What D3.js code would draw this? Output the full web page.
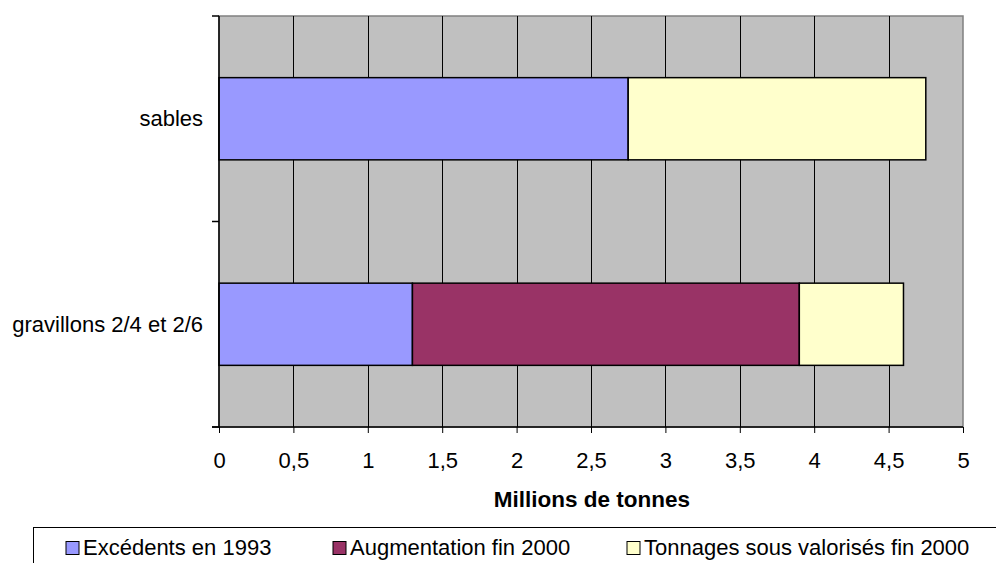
<!DOCTYPE html>
<html>
<head>
<meta charset="utf-8">
<script src="https://cdn.jsdelivr.net/npm/d3@7"></script>
<style>
  body { margin: 0; background: #fff; }
  svg { display: block; font-family: Arial, "Liberation Sans", sans-serif; }
</style>
</head>
<body>
<div id="chart"></div>
<script>
const categories = ["sables", "gravillons 2/4 et 2/6"];
const seriesNames = ["Excédents en 1993", "Augmentation fin 2000", "Tonnages sous valorisés fin 2000"];
const excedents = [2.75, 1.3];
const augmentation = [0, 2.6];
const sousValorises = [2.0, 0.7];
const xTicks = [0, 0.5, 1, 1.5, 2, 2.5, 3, 3.5, 4, 4.5, 5];
const colors = ["#9999ff", "#993366", "#ffffcc"];

const width = 996, height = 563;
const plot = { left: 219, right: 963, top: 16, bottom: 427 };
const fontSize = 22;

const svg = d3.select("#chart").append("svg")
  .attr("width", width)
  .attr("height", height);

const x = d3.scaleLinear().domain([0, 5]).range([plot.left, plot.right]);
const y = d3.scaleBand().domain(categories).range([plot.top, plot.bottom]).paddingInner(0.6).paddingOuter(0.3);

// plot background
svg.append("rect")
  .attr("x", plot.left).attr("y", plot.top)
  .attr("width", plot.right - plot.left).attr("height", plot.bottom - plot.top)
  .attr("fill", "#c0c0c0")
  .attr("stroke", "#808080")
  .attr("stroke-width", 1.5);

// vertical gridlines
svg.append("g")
  .selectAll("line")
  .data(xTicks.slice(1, -1))
  .join("line")
  .attr("x1", d => Math.round(x(d)) + 0.5).attr("x2", d => Math.round(x(d)) + 0.5)
  .attr("y1", plot.top).attr("y2", plot.bottom)
  .attr("stroke", "#000")
  .attr("stroke-width", 1);

// stacked bars
const table = categories.map((c, i) => ({
  cat: c,
  s0: excedents[i],
  s1: augmentation[i],
  s2: sousValorises[i]
}));
const stacked = d3.stack().keys(["s0", "s1", "s2"])(table);

svg.append("g")
  .selectAll("g")
  .data(stacked)
  .join("g")
  .attr("fill", (d, i) => colors[i])
  .selectAll("rect")
  .data(d => d.filter(v => v[1] > v[0]))
  .join("rect")
  .attr("x", d => x(d[0]))
  .attr("y", d => y(d.data.cat))
  .attr("width", d => x(d[1]) - x(d[0]))
  .attr("height", y.bandwidth())
  .attr("stroke", "#000")
  .attr("stroke-width", 1.5);

// x axis
const xAxis = svg.append("g")
  .attr("transform", `translate(0,${plot.bottom})`)
  .call(d3.axisBottom(x).tickValues(xTicks).tickSize(6).tickPadding(19)
    .tickFormat(d => String(d).replace(".", ",")));
xAxis.select(".domain").attr("stroke", "#000").attr("stroke-width", 1.5)
  .attr("d", `M${plot.left - 7},0H${plot.right}`);
xAxis.selectAll("text").attr("font-size", fontSize).attr("fill", "#000")
  .attr("font-family", "Arial, 'Liberation Sans', sans-serif");

// y axis (tick marks at category boundaries)
const yEdges = [plot.top, (plot.top + plot.bottom) / 2, plot.bottom];
svg.append("line")
  .attr("x1", plot.left).attr("x2", plot.left)
  .attr("y1", plot.top).attr("y2", plot.bottom)
  .attr("stroke", "#000").attr("stroke-width", 1.5);
svg.append("g")
  .selectAll("line")
  .data(yEdges)
  .join("line")
  .attr("x1", plot.left - 7).attr("x2", plot.left)
  .attr("y1", d => d).attr("y2", d => d)
  .attr("stroke", "#000").attr("stroke-width", 1.5);

svg.append("g")
  .selectAll("text")
  .data(categories)
  .join("text")
  .attr("x", 203)
  .attr("y", d => y(d) + y.bandwidth() / 2)
  .attr("dy", "0.35em")
  .attr("text-anchor", "end")
  .attr("font-size", fontSize)
  .text(d => d);

// axis title
svg.append("text")
  .attr("x", 592)
  .attr("y", 507)
  .attr("text-anchor", "middle")
  .attr("font-size", 22.5)
  .attr("font-weight", "bold")
  .text("Millions de tonnes");

// legend
svg.append("rect")
  .attr("x", 33.5).attr("y", 527.5)
  .attr("width", 1000).attr("height", 60)
  .attr("fill", "#fff").attr("stroke", "#000").attr("stroke-width", 1);

const legendX = [66, 333, 627];
const legend = svg.append("g")
  .selectAll("g")
  .data(seriesNames)
  .join("g")
  .attr("transform", (d, i) => `translate(${legendX[i]},541.5)`);
legend.append("rect")
  .attr("width", 13).attr("height", 13)
  .attr("fill", (d, i) => colors[i])
  .attr("stroke", "#000").attr("stroke-width", 1);
legend.append("text")
  .attr("x", 17).attr("y", 13.5)
  .attr("font-size", fontSize)
  .text(d => d);
</script>
</body>
</html>
